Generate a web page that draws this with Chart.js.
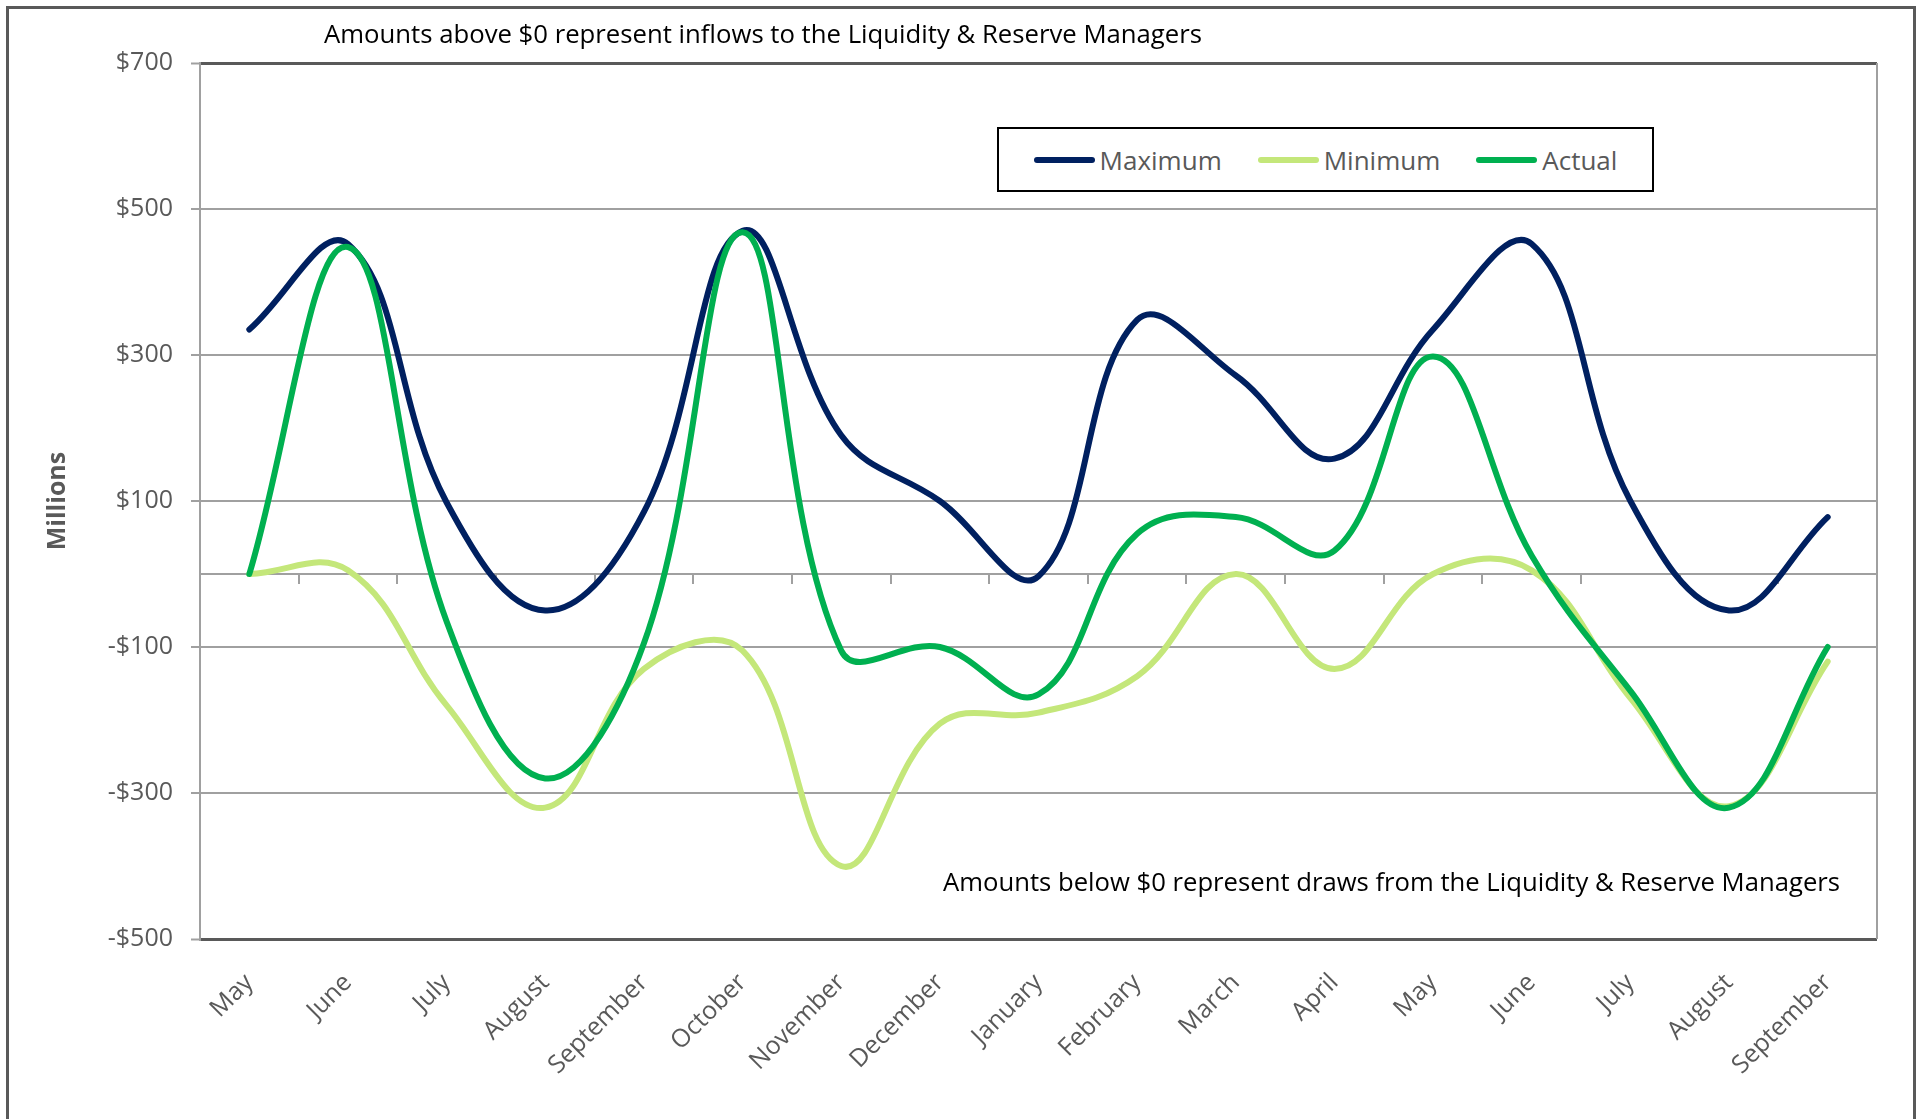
<!DOCTYPE html>
<html>
<head>
<meta charset="utf-8">
<script src="https://cdn.jsdelivr.net/npm/chart.js@4.4.1/dist/chart.umd.min.js"></script>
<style>
  html, body { margin: 0; padding: 0; background: #fff; overflow: hidden; }
  #wrap   { position: relative; width: 1927px; height: 1119px; }
  #frame  { position: absolute; left: 6px; top: 6px; width: 1910px; height: 1200px;
            border: 3px solid #595959; box-sizing: border-box; }
  #chart  { position: absolute; left: 0; top: 0; }
  #legend { position: absolute; left: 997px; top: 127px; width: 657px; height: 65px;
            border: 2px solid #000; box-sizing: border-box; background: #fff;
            display: flex; align-items: center; justify-content: center;
            font-family: "Open Sans", sans-serif; font-size: 26px; color: #595959; }
  .item   { display: flex; align-items: center; margin: 0 18px; }
  .swatch { width: 61px; height: 6px; border-radius: 3px; margin-right: 5px; }
</style>
</head>
<body>
<div id="wrap">
  <div id="frame"></div>
  <canvas id="chart" width="1927" height="1119"></canvas>
  <div id="legend"></div>
</div>
<script>
/* Liquidity & Reserve Managers: max / min / actual flows, $ millions */

const MONTHS  = ["May", "June", "July", "August", "September", "October", "November",
                 "December", "January", "February", "March", "April", "May", "June",
                 "July", "August", "September"];
const MAXIMUM = [335, 452, 98, -50, 85, 470, 190, 100, -3, 348, 272, 158, 335, 452, 100, -50, 78];
const MINIMUM = [0, 5, -180, -320, -130, -105, -400, -205, -190, -140, 0, -130, 0, 5, -170, -318, -120];
const ACTUAL  = [0, 448, -65, -280, -95, 468, -105, -100, -165, 55, 78, 32, 298, 25, -160, -320, -100];

const Y_MIN  = -500;
const Y_MAX  = 700;
const Y_STEP = 200;

const NOTE_ABOVE = "Amounts above $0 represent inflows to the Liquidity & Reserve Managers";
const NOTE_BELOW = "Amounts below $0 represent draws from the Liquidity & Reserve Managers";

const FONT = "'Open Sans', sans-serif";
const GREY = "#595959";
const GRID = "#a0a0a0";

function line(label, data, color, order) {
  return {
    label, data, order,
    borderColor: color,
    backgroundColor: color,
    borderWidth: 6,
    borderCapStyle: "round",
    borderJoinStyle: "round",
    pointRadius: 0,
    tension: 0.4,
    fill: false,
  };
}

// right edge of the plot + the two notes
const plotNotes = {
  id: "plotNotes",
  beforeDatasetsDraw(chart) {
    const { ctx, chartArea: a } = chart;
    ctx.save();
    ctx.strokeStyle = GRID;
    ctx.lineWidth = 2;
    ctx.beginPath();
    ctx.moveTo(a.right, a.top);
    ctx.lineTo(a.right, a.bottom);
    ctx.stroke();
    ctx.restore();
  },
  afterDraw(chart) {
    const { ctx, chartArea: a } = chart;
    ctx.save();
    ctx.fillStyle = "#000";
    ctx.font = "26px " + FONT;
    ctx.textBaseline = "middle";
    ctx.textAlign = "left";
    ctx.fillText(NOTE_ABOVE, a.left + 124, a.top - 27, 878);
    ctx.textAlign = "right";
    ctx.fillText(NOTE_BELOW, a.right - 37, a.bottom - 55, 897);
    ctx.restore();
  },
};

const edge = v => v === Y_MAX || v === Y_MIN;

const chart = new Chart(document.getElementById("chart"), {
  type: "line",
  data: {
    labels: MONTHS,
    datasets: [
      line("Maximum", MAXIMUM, "#002060", 3),
      line("Minimum", MINIMUM, "#C4E77A", 2),
      line("Actual",  ACTUAL,  "#00B050", 1),
    ],
  },
  options: {
    responsive: false,
    animation: false,
    layout: { padding: { left: 43, top: 63, right: 50, bottom: 0 } },
    plugins: {
      legend:  { display: false },
      tooltip: { enabled: false },
    },
    scales: {
      x: {
        type: "category",
        position: "bottom",
        offset: true,
        grid:   { display: false, drawTicks: false },
        border: { display: false },
        ticks: {
          color: GREY,
          font: { family: FONT, size: 25 },
          minRotation: 45,
          maxRotation: 45,
          autoSkip: false,
          padding: 29,
        },
        afterFit: s => { s.height = 180; },
      },
      zero: {
        type: "category",
        axis: "x",
        position: { y: 0 },
        offset: true,
        ticks:  { display: false },
        grid:   { offset: true, drawOnChartArea: false, drawTicks: true, tickLength: 9,
                  color: GRID, lineWidth: 2 },
        border: { display: true, color: GRID, width: 2 },
      },
      y: {
        min: Y_MIN,
        max: Y_MAX,
        ticks: {
          stepSize: Y_STEP,
          color: GREY,
          font: { family: FONT, size: 25 },
          padding: 18,
          callback: v => (v < 0 ? "-$" : "$") + Math.abs(v),
        },
        grid: {
          color: c => edge(c.tick && c.tick.value) ? GREY : GRID,
          lineWidth: c => edge(c.tick && c.tick.value) ? 3 : 2,
          tickColor: GRID,
          tickWidth: 2,
          tickLength: 9,
        },
        border: { color: GRID, width: 2 },
        title: {
          display: true,
          text: "Millions",
          color: GREY,
          font: { family: FONT, size: 25, weight: "bold" },
          padding: { top: 0, bottom: 0 },
        },
        afterFit: s => { s.width = 157; },
      },
    },
  },
  plugins: [plotNotes],
});

// legend box, built from the datasets
const legend = document.getElementById("legend");
chart.data.datasets.forEach(ds => {
  const item = document.createElement("div");
  item.className = "item";
  const sw = document.createElement("span");
  sw.className = "swatch";
  sw.style.background = ds.borderColor;
  const txt = document.createElement("span");
  txt.textContent = ds.label;
  item.appendChild(sw);
  item.appendChild(txt);
  legend.appendChild(item);
});
</script>
</body>
</html>
